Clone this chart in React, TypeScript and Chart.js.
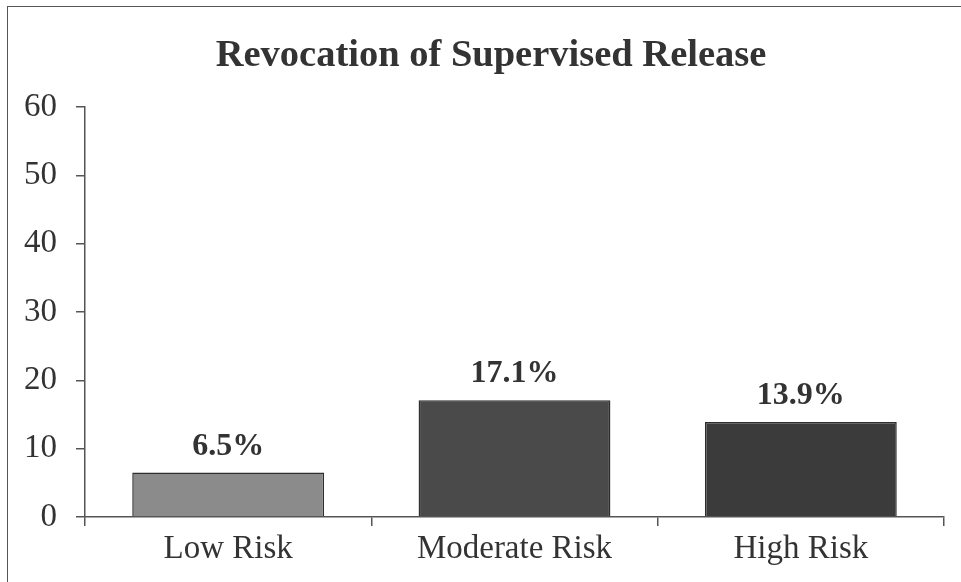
import React, { useEffect, useRef } from "react";
import { Chart, registerables } from "chart.js";

Chart.register(...registerables);

const title = "Revocation of Supervised Release";
const categories = ["Low Risk", "Moderate Risk", "High Risk"];
const values = [6.5, 17.1, 13.9];
const valueLabels = ["6.5%", "17.1%", "13.9%"];
const barColors = ["#8b8b8b", "#4a4a4a", "#3b3b3b"];
const yTicks = [0, 10, 20, 30, 40, 50, 60];

const SERIF = "'Liberation Serif', 'DejaVu Serif', serif";

const labelPlugin = {
  id: "valueLabels",
  afterDatasetsDraw(chart: any) {
    const ctx = chart.ctx;
    const meta = chart.getDatasetMeta(0);
    ctx.save();
    ctx.font = `bold 32px ${SERIF}`;
    ctx.fillStyle = "#333333";
    ctx.textAlign = "center";
    ctx.textBaseline = "alphabetic";
    meta.data.forEach((bar: any, i: number) => {
      ctx.fillText(valueLabels[i], bar.x, bar.y - 18);
    });
    ctx.restore();
  },
};

const titlePlugin = {
  id: "customTitle",
  afterDraw(chart: any) {
    const ctx = chart.ctx;
    ctx.save();
    ctx.font = `bold 38.5px ${SERIF}`;
    ctx.fillStyle = "#333333";
    ctx.textAlign = "center";
    ctx.textBaseline = "alphabetic";
    ctx.fillText(title, 491, 66);
    ctx.restore();
  },
};

export default function App() {
  const ref = useRef<HTMLCanvasElement | null>(null);

  useEffect(() => {
    if (!ref.current) return;
    const chart = new Chart(ref.current, {
      type: "bar",
      data: {
        labels: categories,
        datasets: [
          {
            data: values,
            backgroundColor: barColors,
            borderColor: "#2e2e2e",
            borderWidth: 1.5,
            barPercentage: 0.67,
            categoryPercentage: 1,
          },
        ],
      },
      options: {
        animation: false,
        responsive: false,
        layout: { padding: { top: 107, right: 17, bottom: 0, left: 0 } },
        plugins: {
          legend: { display: false },
          title: { display: false },
          tooltip: { enabled: false },
        },
        scales: {
          x: {
            offset: true,
            grid: {
              offset: true,
              drawOnChartArea: false,
              drawTicks: true,
              tickLength: 9,
              color: "#555555",
              lineWidth: 1.5,
            },
            border: { color: "#555555", width: 1.5 },
            ticks: {
              color: "#333333",
              font: { family: SERIF, size: 33 },
              padding: 4,
            },
            afterFit: (s: any) => {
              s.height = 65;
            },
          },
          y: {
            min: 0,
            max: 60,
            afterBuildTicks: (s: any) => {
              s.ticks = yTicks.map((v) => ({ value: v }));
            },
            grid: {
              drawOnChartArea: false,
              drawTicks: true,
              tickLength: 9,
              color: "#555555",
              lineWidth: 1.5,
            },
            border: { color: "#555555", width: 1.5 },
            ticks: {
              color: "#333333",
              font: { family: SERIF, size: 33 },
              padding: 19,
            },
            afterFit: (s: any) => {
              s.width = 85;
            },
          },
        },
      },
      plugins: [labelPlugin, titlePlugin],
    });
    return () => chart.destroy();
  }, []);

  return (
    <div
      style={{
        position: "fixed",
        left: 0,
        top: 0,
        width: 961,
        height: 582,
        background: "#ffffff",
      }}
    >
      <canvas ref={ref} width={961} height={582} style={{ display: "block" }} />
      <div
        style={{
          position: "absolute",
          left: 7,
          top: 6,
          width: 960,
          height: 600,
          borderLeft: "1.5px solid #555",
          borderTop: "1.5px solid #555",
          pointerEvents: "none",
        }}
      />
    </div>
  );
}
